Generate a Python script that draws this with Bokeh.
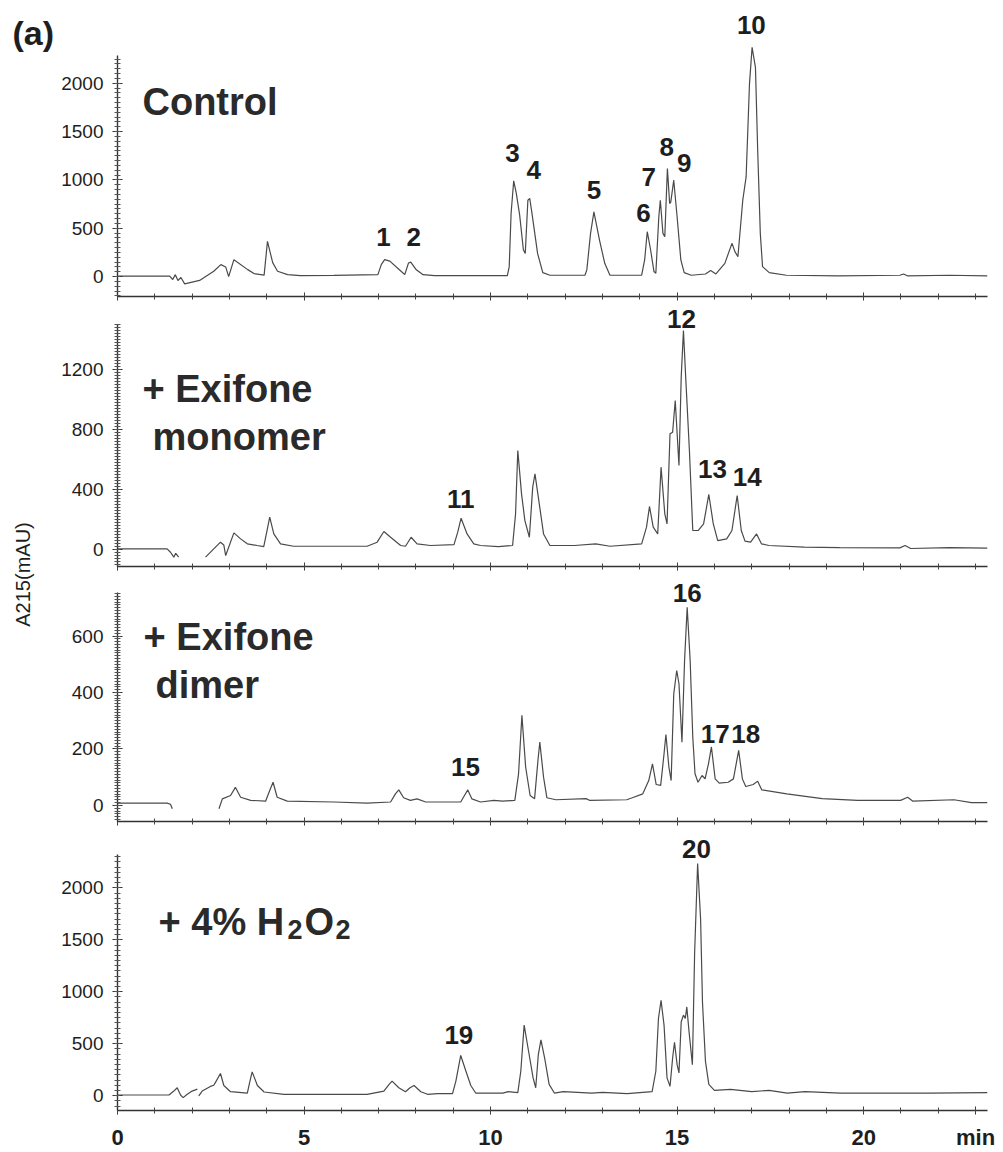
import numpy as np
from bokeh.plotting import figure
from bokeh.layouts import row, column
from bokeh.models import Range1d, SingleIntervalTicker, FixedTicker
from bokeh.core.properties import value
from bokeh.embed import file_html
from bokeh.resources import INLINE

NAN = float("nan")

# ---------------- data (retention time in min, absorbance in mAU) ----------------
ctrl_t = [0, 1.40, 1.48, 1.55, 1.62, 1.70, 1.80, 2.2, 2.58, 2.77, 2.90, 2.98, 3.12, 3.49, 3.66,
          3.93, 4.02, 4.16, 4.29, 4.56, 4.9, 5.8, 6.98, 7.07, 7.16, 7.3, 7.6, 7.7, 7.8, 7.86,
          8.01, 8.19, 8.5, 10.45, 10.50, 10.55, 10.62, 10.69, 10.78, 10.88, 10.93, 11.0, 11.05,
          11.11, 11.26, 11.40, 11.59, 12.53, 12.58, 12.68, 12.77, 12.92, 13.06, 13.20, 14.05,
          14.13, 14.20, 14.29, 14.38, 14.43, 14.51, 14.55, 14.62, 14.67, 14.74, 14.80, 14.83,
          14.91, 15.0, 15.10, 15.19, 15.38, 15.76, 15.90, 16.04, 16.28, 16.47, 16.55, 16.63,
          16.76, 16.85, 16.94, 17.01, 17.10, 17.16, 17.23, 17.29, 17.47, 17.93, 19.33, 20.97,
          21.07, 21.17, 22.3, 23.32]
ctrl_v = [5, 5, -30, 20, -40, -10, -75, -40, 55, 124, 100, 0, 175, 72, 31,
          15, 364, 144, 55, 20, 10, 12, 20, 124, 175, 160, 55, 20, 140, 150,
          70, 20, 10, 10, 103, 653, 990, 860, 636, 275, 240, 790, 808,
          653, 240, 41, 14, 14, 69, 447, 670, 378, 137, 14, 14,
          172, 464, 275, 52, 35, 619, 790, 447, 412, 1117, 756, 770,
          997, 619, 172, 41, 14, 27, 62, 27, 137, 344, 258, 206,
          790, 1031, 1993, 2371, 2165, 1306, 447, 103, 41, 14, 8, 14,
          27, 8, 14, 8]

mono_t = [0, 1.33, 1.42, 1.51, 1.56, 1.64, NAN, 2.36, 2.58, 2.76, 2.85, 2.9, 3.12, 3.3, 3.48,
          3.74, 3.92, 4.0, 4.08, 4.19, 4.37, 4.72, 6.69, 6.96, 7.14, 7.32, 7.59, 7.72, 7.87,
          8.03, 8.39, 9.02, 9.12, 9.21, 9.37, 9.55, 9.73, 10.21, 10.59, 10.67, 10.73, 10.83,
          10.92, 11.04, 11.13, 11.19, 11.28, 11.42, 11.59, 12.25, 12.82, 13.2, 14.05, 14.18,
          14.26, 14.36, 14.48, 14.57, 14.67, 14.73, 14.81, 14.88, 14.95, 15.05, 15.11, 15.17,
          15.23, 15.33, 15.42, 15.57, 15.71, 15.85, 15.97, 16.09, 16.33, 16.47, 16.61, 16.72,
          16.82, 16.97, 17.13, 17.26, 17.46, 18.41, 19.36, 20.97, 21.11, 21.26, 22.3, 23.32]
mono_v = [4, 4, -18, -51, -25, -51, NAN, -51, 4, 49, 30, -40, 111, 71, 38,
          27, 20, 116, 216, 104, 38, 22, 22, 49, 120, 82, 27, 22, 82,
          38, 27, 33, 116, 209, 104, 38, 27, 20, 27, 238, 660, 371,
          193, 82, 416, 504, 349, 104, 27, 27, 38, 22, 38, 149,
          287, 149, 104, 549, 238, 171, 771, 782, 993, 560, 1149, 1460,
          1149, 660, 127, 127, 171, 367, 171, 60, 71, 127, 360, 127,
          56, 49, 104, 38, 27, 16, 13, 11, 27, 7, 13, 9]

dimer_t = [0, 1.33, 1.42, 1.47, NAN, 2.72, 2.81, 3.03, 3.16, 3.3, 3.57, 3.97, 4.08, 4.17, 4.28,
           4.55, 5.8, 6.69, 7.32, 7.45, 7.54, 7.67, 7.85, 8.03, 8.26, 9.2, 9.3, 9.39, 9.5,
           9.73, 10.09, 10.32, 10.65, 10.75, 10.84, 10.94, 11.06, 11.18, 11.27, 11.32, 11.42,
           11.51, 11.75, 12.56, 12.65, 13.65, 13.8, 14.08, 14.24, 14.34, 14.44, 14.56, 14.65,
           14.7, 14.78, 14.84, 14.91, 14.99, 15.05, 15.13, 15.2, 15.27, 15.35, 15.42, 15.48,
           15.56, 15.67, 15.75, 15.84, 15.92, 16.02, 16.13, 16.37, 16.51, 16.65, 16.75, 16.84,
           17.04, 17.16, 17.27, 17.94, 18.89, 19.84, 20.99, 21.18, 21.32, 22.42, 22.89, 23.32]
dimer_v = [8, 8, 4, -12, NAN, -12, 23, 35, 64, 29, 18, 15, 53, 82, 29,
           15, 12, 8, 12, 41, 55, 27, 18, 23, 12, 12, 35, 55, 23,
           12, 18, 15, 18, 112, 319, 136, 35, 24, 159, 224, 100,
           27, 20, 24, 18, 20, 27, 41, 88, 147, 74, 71, 183,
           251, 136, 88, 395, 478, 431, 224, 513, 702, 513, 242, 112,
           82, 106, 94, 147, 207, 94, 79, 82, 94, 195, 94, 67,
           74, 86, 55, 41, 24, 18, 18, 29, 15, 20, 10, 10]

h2o2_t = [0, 1.38, 1.51, 1.6, 1.69, 1.76, 1.87, 2.0, 2.14, NAN, 2.18, 2.27, 2.49, 2.58, 2.63,
          2.76, 2.85, 3.03, 3.48, 3.55, 3.61, 3.75, 3.93, 4.46, 6.69, 7.14, 7.28, 7.36, 7.54,
          7.72, 7.84, 7.95, 8.13, 8.31, 8.58, 8.98, 9.07, 9.2, 9.34, 9.47, 9.6, 10.33, 10.47,
          10.73, 10.81, 10.9, 11.02, 11.14, 11.21, 11.28, 11.35, 11.45, 11.57, 11.71, 11.95,
          12.71, 13.0, 13.66, 14.33, 14.43, 14.5, 14.57, 14.65, 14.73, 14.81, 14.88, 14.93,
          15.0, 15.05, 15.11, 15.17, 15.22, 15.26, 15.32, 15.41, 15.47, 15.55, 15.63, 15.68,
          15.76, 15.85, 16.0, 16.43, 17.0, 17.47, 17.95, 18.43, 19.38, 20.33, 21.75, 23.32]
h2o2_v = [6, 6, 44, 76, 6, -19, 13, 44, 63, NAN, -3, 44, 89, 100, 130,
          213, 98, 38, 25, 140, 229, 98, 35, 13, 13, 44, 108, 140, 76,
          38, 76, 98, 38, 13, 19, 19, 140, 387, 235, 98, 25, 25, 38,
          29, 235, 679, 425, 171, 76, 394, 536, 362, 108, 25, 38,
          25, 32, 19, 38, 235, 743, 917, 679, 171, 89, 362, 514,
          298, 219, 711, 775, 743, 854, 616, 298, 1378, 2235, 1695, 902,
          330, 108, 51, 60, 38, 51, 25, 38, 25, 25, 25, 29]

# peak labels: text, retention time, label height (mAU)
ctrl_lab = ["1", "2", "3", "4", "5", "6", "7", "8", "9", "10"]
ctrl_lab_t = [7.13, 7.94, 10.59, 11.16, 12.77, 14.10, 14.24, 14.72, 15.19, 16.99]
ctrl_lab_v = [412, 412, 1278, 1103, 897, 660, 1031, 1340, 1175, 2598]

mono_lab = ["11", "12", "13", "14"]
mono_lab_t = [9.2, 15.12, 15.95, 16.88]
mono_lab_v = [340, 1535, 538, 482]

dimer_lab = ["15", "16", "17", "18"]
dimer_lab_t = [9.33, 15.27, 16.02, 16.84]
dimer_lab_v = [136, 752, 254, 254]

h2o2_lab = ["19", "20"]
h2o2_lab_t = [9.15, 15.52]
h2o2_lab_v = [584, 2378]

x_ticks = [0, 5, 10, 15, 20]

FONT_NAME = "Liberation Sans"
FONT = value(FONT_NAME)
INK = "#1e1e1e"
TRACE = "#4a4a4a"
X_END = 23.32
xr = Range1d(0, X_END)


def panel(height, top, bottom, yr, ybounds, interval, nminor, show_x_labels=False):
    p = figure(width=947, height=height, x_range=xr, y_range=Range1d(*yr),
               output_backend="svg", toolbar_location=None,
               min_border_left=61, min_border_right=16,
               min_border_top=top, min_border_bottom=bottom)
    p.outline_line_color = None
    p.xgrid.visible = False
    p.ygrid.visible = False
    p.background_fill_color = "white"
    p.border_fill_color = "white"

    ya = p.yaxis[0]
    ya.ticker = SingleIntervalTicker(interval=interval, num_minor_ticks=nminor)
    ya.bounds = ybounds
    ya.axis_line_color = "#333333"
    ya.axis_line_width = 1.4
    ya.major_tick_line_color = "#333333"
    ya.minor_tick_line_color = "#555555"
    ya.major_tick_in = 5
    ya.major_tick_out = 5
    ya.minor_tick_in = 3
    ya.minor_tick_out = 3
    ya.major_label_standoff = 9
    ya.major_label_text_font = FONT_NAME
    ya.major_label_text_font_size = "19px"
    ya.major_label_text_color = INK

    xa = p.xaxis[0]
    xa.axis_line_color = "#333333"
    xa.axis_line_width = 1.6
    xa.major_tick_line_color = "#333333"
    xa.minor_tick_line_color = "#444444"
    xa.major_tick_in = 4
    xa.major_tick_out = 4
    xa.minor_tick_in = 3
    xa.minor_tick_out = 3
    if show_x_labels:
        xa.ticker = FixedTicker(ticks=x_ticks + [23], minor_ticks=list(range(24)))
        xa.major_label_overrides = {23: "min"}
        xa.major_label_standoff = 10
        xa.major_label_text_font = FONT_NAME
        xa.major_label_text_font_style = "bold"
        xa.major_label_text_font_size = "22px"
        xa.major_label_text_color = INK
    else:
        xa.ticker = FixedTicker(ticks=x_ticks, minor_ticks=list(range(24)))
        xa.major_label_text_font_size = "1px"
        xa.major_label_text_color = None
        xa.major_label_standoff = 0
    return p


def trace(p, t, v):
    p.line(np.array(t, dtype=float), np.array(v, dtype=float), line_color=TRACE, line_width=1.2)


def peak_labels(p, txt, t, v):
    p.text(x=t, y=v, text=txt, text_font=FONT, text_font_style="bold",
           text_font_size="26px", text_align="center", text_baseline="middle",
           text_color=INK)


def title(p, x, y, txt, size="38px"):
    p.text(x=[x], y=[y], text=[txt], text_font=FONT, text_font_style="bold",
           text_font_size=size, text_align="left", text_baseline="alphabetic",
           text_color="#2a2a2a")


# Panel 1: Control
p1 = panel(302, 5, 6, (-206, 2804), (-206, 2290), 500, 10)
trace(p1, ctrl_t, ctrl_v)
peak_labels(p1, ctrl_lab, ctrl_lab_t, ctrl_lab_v)
title(p1, 0.67, 1804, "Control")

# Panel 2: + Exifone monomer
p2 = panel(270, 2, 6, (-113, 1633), (-113, 1500), 400, 20)
trace(p2, mono_t, mono_v)
peak_labels(p2, mono_lab, mono_lab_t, mono_lab_v)
title(p2, 0.67, 1073, "+ Exifone")
title(p2, 0.94, 747, "monomer")

# Panel 3: + Exifone dimer
p3 = panel(255, 2, 6, (-57, 818), (-57, 754), 200, 20)
trace(p3, dimer_t, dimer_v)
peak_labels(p3, dimer_lab, dimer_lab_t, dimer_lab_v)
title(p3, 0.70, 598, "+ Exifone")
title(p3, 1.02, 425, "dimer")

# Panel 4: + 4% H2O2
p4 = panel(325, 2, 39, (-143, 2562), (-143, 2320), 500, 10, show_x_labels=True)
trace(p4, h2o2_t, h2o2_v)
peak_labels(p4, h2o2_lab, h2o2_lab_t, h2o2_lab_v)
title(p4, 1.10, 1676, "+ 4% H")
title(p4, 4.56, 1600, "2", size="27px")
title(p4, 5.01, 1676, "O")
title(p4, 5.845, 1600, "2", size="27px")

# Left strip with panel tag and y-axis label
pl = figure(width=56, height=1152, x_range=Range1d(0, 56), y_range=Range1d(0, 1152),
            output_backend="svg", toolbar_location=None,
            min_border_left=0, min_border_right=0, min_border_top=0, min_border_bottom=0)
pl.axis.visible = False
pl.xgrid.visible = False
pl.ygrid.visible = False
pl.outline_line_color = None
pl.text(x=[12], y=[1152 - 32], text=["(a)"], text_font=FONT, text_font_style="bold",
        text_font_size="34px", text_align="left", text_baseline="middle", text_color=INK)
pl.text(x=[22], y=[1152 - 574], text=["A215(mAU)"], angle=np.pi / 2, text_font=FONT,
        text_font_size="20px", text_align="center", text_baseline="middle", text_color=INK)

layout = row(pl, column(p1, p2, p3, p4))

with open("out.html", "w") as f:
    f.write(file_html(layout, INLINE))
